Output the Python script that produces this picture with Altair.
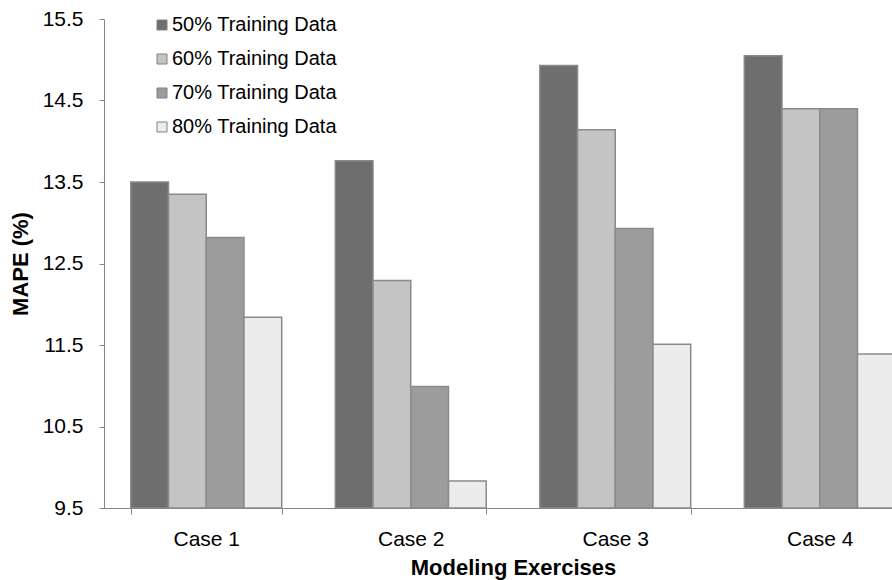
import altair as alt
import pandas as pd

# Grouped bar chart: MAPE by modeling exercise for four training-data shares
cases = ["Case 1", "Case 2", "Case 3", "Case 4"]
series = ["50% Training Data", "60% Training Data", "70% Training Data", "80% Training Data"]
mape_50 = [13.50, 13.76, 14.93, 15.05]
mape_60 = [13.35, 12.29, 14.14, 14.40]
mape_70 = [12.82, 10.99, 12.93, 14.40]
mape_80 = [11.84, 9.83, 11.51, 11.39]
y_ticks = [9.5, 10.5, 11.5, 12.5, 13.5, 14.5, 15.5]

# grey tones standing in for the hatch fills of each series
fills = ["#6e6e6e", "#c4c4c4", "#9c9c9c", "#ececec"]

rows = []
for name, vals in zip(series, [mape_50, mape_60, mape_70, mape_80]):
    for case, v in zip(cases, vals):
        rows.append({"case": case, "series": name, "mape": v})
df = pd.DataFrame(rows)

FONT = "Liberation Sans"
AXIS_GREY = "#868686"

bars = alt.Chart(df).mark_bar(
    stroke="#8a8a8a", strokeWidth=1.5, opacity=1
).encode(
    x=alt.X(
        "case:N",
        sort=cases,
        title="Modeling Exercises",
        scale=alt.Scale(paddingInner=0.262, paddingOuter=0.131),
        axis=alt.Axis(
            labelAngle=0,
            tickBand="extent",
            tickSize=6,
            labelPadding=14,
            titleX=409,
            titleY=59,
            titleBaseline="middle",
            titleAlign="center",
        ),
    ),
    xOffset=alt.XOffset("series:N", sort=series, scale=alt.Scale(paddingInner=0, paddingOuter=0)),
    y=alt.Y(
        "mape:Q",
        title="MAPE (%)",
        scale=alt.Scale(domain=[9.5, 15.5], zero=False, nice=False),
        axis=alt.Axis(
            values=y_ticks,
            format=".1f",
            tickSize=5,
            labelPadding=16,
            titleX=-84,
            titleY=244.5,
            titleBaseline="middle",
            titleAlign="center",
            titleAngle=-90,
        ),
    ),
    y2=alt.datum(9.5),
    color=alt.Color(
        "series:N",
        sort=series,
        scale=alt.Scale(domain=series, range=fills),
        legend=alt.Legend(
            title=None,
            orient="none",
            legendX=48,
            legendY=-4,
            symbolType="square",
            symbolSize=100,
            symbolStrokeColor="#808080",
            symbolStrokeWidth=1,
            symbolOpacity=1,
            labelFontSize=20,
            labelFont=FONT,
            labelColor="#000000",
            labelOffset=0,
            labelLimit=0,
            rowPadding=14,
        ),
    ),
)

chart = bars.properties(
    width=818,
    height=489,
    padding={"left": 104, "top": 19, "bottom": 72, "right": -30},
    autosize=alt.AutoSizeParams(type="none"),
    background="white",
).configure_view(
    stroke=None
).configure_axis(
    grid=False,
    domainColor=AXIS_GREY,
    domainWidth=1,
    tickColor=AXIS_GREY,
    tickWidth=1,
    labelFont=FONT,
    labelFontSize=21,
    labelColor="#000000",
    titleFont=FONT,
    titleFontSize=22,
    titleFontWeight="bold",
    titleColor="#000000",
)

chart.save("out.html", embed_options={"renderer": "svg", "actions": False})
